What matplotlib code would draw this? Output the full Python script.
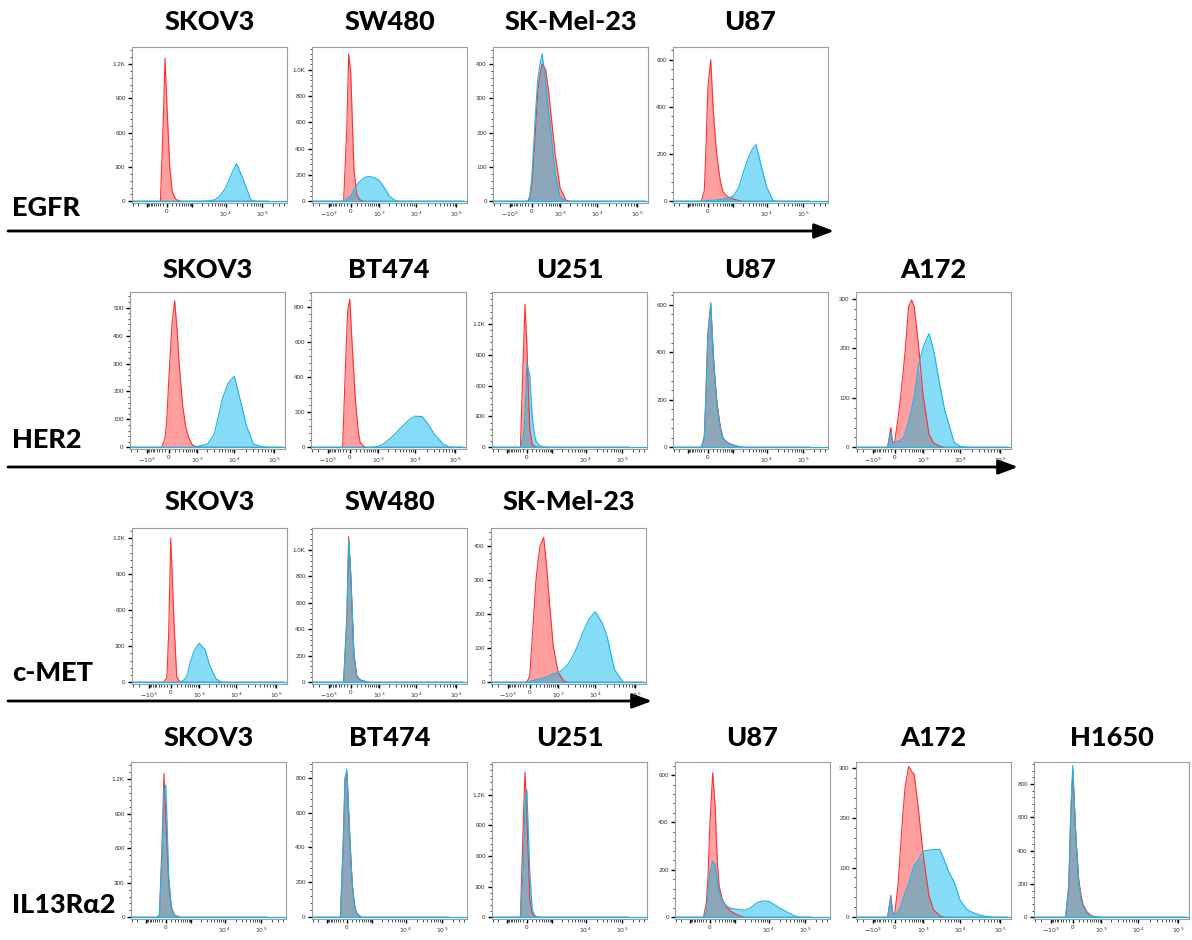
import numpy as np
import matplotlib
matplotlib.use("Agg")
import matplotlib.pyplot as plt
from matplotlib.ticker import FixedLocator, FuncFormatter, MultipleLocator

# ------------------------------------------------------------------ data
# fluorescence intensity grid (shared by every histogram)
fluor = [-3000, -1000, -500, -300, -200, -100, -50,
         0, 50, 100, 150, 200, 300, 400, 500,
         700, 1000, 1500, 2000, 3000, 4000, 5000, 7000,
         10000, 15000, 20000, 30000, 50000, 70000, 100000, 150000]

row_markers = ["EGFR", "HER2", "c-MET", "IL13R\u03b12"]
row_cells = [["SKOV3", "SW480", "SK-Mel-23", "U87"],
             ["SKOV3", "BT474", "U251", "U87", "A172"],
             ["SKOV3", "SW480", "SK-Mel-23"],
             ["SKOV3", "BT474", "U251", "U87", "A172", "H1650"]]

# counts per bin: iso = control (red), stain = antibody (blue)
egfr_skov3_iso = [0, 0, 0, 0, 0, 720, 1250, 850, 300, 90, 40, 15, 5, 0, 0,
                  0, 0, 0, 0, 0, 0, 0, 0, 0, 0, 0, 0, 0, 0, 0, 0]
egfr_skov3_stain = [0, 0, 0, 0, 0, 0, 0, 0, 0, 0, 0, 0, 0, 0, 0,
                    0, 0, 0, 0, 3, 8, 15, 50, 120, 250, 330, 200, 10, 0, 0, 0]
egfr_sw480_iso = [0, 0, 0, 0, 0, 557, 1120, 980, 242, 51, 20, 5, 0, 0, 0,
                  0, 0, 0, 0, 0, 0, 0, 0, 0, 0, 0, 0, 0, 0, 0, 0]
egfr_sw480_stain = [0, 0, 0, 0, 0, 20, 30, 40, 90, 125, 145, 160, 180, 188, 188,
                    180, 160, 95, 38, 3, 0, 0, 0, 0, 0, 0, 0, 0, 0, 0, 0]
egfr_skmel_iso = [0, 0, 0, 0, 0, 0, 8, 45, 180, 320, 370, 400, 385, 320, 250,
                  135, 38, 3, 0, 0, 0, 0, 0, 0, 0, 0, 0, 0, 0, 0, 0]
egfr_skmel_stain = [0, 0, 0, 0, 0, 0, 15, 65, 230, 355, 400, 430, 350, 260, 195,
                    80, 12, 0, 0, 0, 0, 0, 0, 0, 0, 0, 0, 0, 0, 0, 0]
egfr_u87_iso = [0, 0, 0, 0, 0, 45, 230, 480, 600, 390, 270, 180, 85, 40, 28,
                16, 10, 3, 0, 0, 0, 0, 0, 0, 0, 0, 0, 0, 0, 0, 0]
egfr_u87_stain = [0, 0, 0, 0, 0, 2, 3, 4, 4, 5, 5, 6, 8, 10, 12,
                  16, 22, 58, 115, 188, 225, 240, 150, 60, 3, 0, 0, 0, 0, 0, 0]

her2_skov3_iso = [0, 0, 0, 0, 0, 30, 90, 240, 440, 525, 420, 300, 150, 75, 40,
                  8, 2, 0, 0, 0, 0, 0, 0, 0, 0, 0, 0, 0, 0, 0, 0]
her2_skov3_stain = [0, 0, 0, 0, 0, 0, 0, 0, 0, 0, 0, 0, 0, 0, 0,
                    0, 3, 8, 12, 45, 115, 175, 230, 255, 155, 80, 12, 2, 0, 0, 0]
her2_bt474_iso = [0, 0, 0, 0, 0, 520, 780, 845, 500, 250, 100, 28, 5, 0, 0,
                  0, 0, 0, 0, 0, 0, 0, 0, 0, 0, 0, 0, 0, 0, 0, 0]
her2_bt474_stain = [0, 0, 0, 0, 0, 0, 0, 0, 0, 0, 0, 0, 0, 0, 0,
                    0, 5, 22, 42, 75, 105, 125, 158, 178, 175, 140, 75, 18, 2, 0, 0]
her2_u251_iso = [0, 0, 0, 0, 0, 900, 1390, 1000, 180, 30, 10, 3, 0, 0, 0,
                 0, 0, 0, 0, 0, 0, 0, 0, 0, 0, 0, 0, 0, 0, 0, 0]
her2_u251_stain = [0, 0, 0, 0, 0, 100, 320, 820, 700, 300, 130, 55, 20, 8, 3,
                   0, 0, 0, 0, 0, 0, 0, 0, 0, 0, 0, 0, 0, 0, 0, 0]
her2_u87_iso = [0, 0, 0, 0, 0, 45, 230, 480, 600, 390, 270, 180, 85, 40, 28,
                16, 10, 3, 0, 0, 0, 0, 0, 0, 0, 0, 0, 0, 0, 0, 0]
her2_u87_stain = [0, 0, 0, 0, 0, 40, 220, 470, 610, 400, 260, 170, 80, 38, 25,
                  15, 9, 3, 0, 0, 0, 0, 0, 0, 0, 0, 0, 0, 0, 0, 0]
her2_a172_iso = [0, 0, 0, 0, 0, 40, 8, 12, 58, 103, 150, 194, 285, 298, 285,
                 211, 104, 26, 9, 2, 0, 0, 0, 0, 0, 0, 0, 0, 0, 0, 0]
her2_a172_stain = [0, 0, 0, 0, 0, 30, 10, 10, 12, 15, 17, 28, 54, 78, 100,
                   163, 203, 230, 198, 125, 75, 50, 10, 2, 0, 0, 0, 0, 0, 0, 0]

cmet_skov3_iso = [0, 0, 0, 0, 0, 40, 400, 1200, 510, 50, 12, 3, 0, 0, 0,
                  0, 0, 0, 0, 0, 0, 0, 0, 0, 0, 0, 0, 0, 0, 0, 0]
cmet_skov3_stain = [0, 0, 0, 0, 0, 0, 0, 0, 0, 0, 0, 5, 25, 70, 165,
                    266, 325, 273, 145, 30, 3, 0, 0, 0, 0, 0, 0, 0, 0, 0, 0]
cmet_sw480_iso = [0, 0, 0, 0, 0, 500, 1100, 800, 200, 48, 25, 15, 8, 3, 0,
                  0, 0, 0, 0, 0, 0, 0, 0, 0, 0, 0, 0, 0, 0, 0, 0]
cmet_sw480_stain = [0, 0, 0, 0, 0, 450, 1080, 820, 210, 55, 28, 16, 8, 3, 0,
                    0, 0, 0, 0, 0, 0, 0, 0, 0, 0, 0, 0, 0, 0, 0, 0]
cmet_skmel_iso = [0, 0, 0, 0, 0, 0, 5, 20, 160, 290, 356, 400, 425, 340, 245,
                  105, 29, 3, 0, 0, 0, 0, 0, 0, 0, 0, 0, 0, 0, 0, 0]
cmet_skmel_stain = [0, 0, 0, 0, 0, 0, 0, 3, 5, 8, 9, 10, 13, 16, 19,
                    25, 28, 40, 55, 89, 122, 150, 186, 207, 174, 133, 38, 0, 0, 0, 0]

il13_skov3_iso = [0, 0, 0, 0, 20, 700, 1250, 850, 300, 90, 40, 15, 5, 0, 0,
                  0, 0, 0, 0, 0, 0, 0, 0, 0, 0, 0, 0, 0, 0, 0, 0]
il13_skov3_stain = [0, 0, 0, 0, 15, 600, 1100, 1150, 350, 100, 40, 15, 5, 0, 0,
                    0, 0, 0, 0, 0, 0, 0, 0, 0, 0, 0, 0, 0, 0, 0, 0]
il13_bt474_iso = [0, 0, 0, 0, 0, 450, 800, 830, 450, 200, 80, 30, 8, 0, 0,
                  0, 0, 0, 0, 0, 0, 0, 0, 0, 0, 0, 0, 0, 0, 0, 0]
il13_bt474_stain = [0, 0, 0, 0, 0, 420, 780, 850, 470, 190, 75, 28, 8, 0, 0,
                    0, 0, 0, 0, 0, 0, 0, 0, 0, 0, 0, 0, 0, 0, 0, 0]
il13_u251_iso = [0, 0, 0, 0, 0, 950, 1420, 1000, 180, 40, 12, 4, 0, 0, 0,
                 0, 0, 0, 0, 0, 0, 0, 0, 0, 0, 0, 0, 0, 0, 0, 0]
il13_u251_stain = [0, 0, 0, 0, 0, 500, 1100, 1250, 450, 80, 25, 8, 3, 0, 0,
                   0, 0, 0, 0, 0, 0, 0, 0, 0, 0, 0, 0, 0, 0, 0, 0]
il13_u87_iso = [0, 0, 0, 0, 0, 60, 170, 390, 610, 460, 230, 130, 75, 55, 40,
                25, 14, 5, 0, 0, 0, 0, 0, 0, 0, 0, 0, 0, 0, 0, 0]
il13_u87_stain = [0, 0, 0, 0, 0, 20, 100, 190, 238, 220, 150, 105, 70, 55, 45,
                  38, 35, 32, 30, 40, 55, 64, 69, 68, 51, 39, 25, 7, 1, 0, 0]
il13_a172_iso = [0, 0, 0, 0, 0, 44, 8, 8, 64, 144, 212, 262, 303, 293, 288,
                 220, 126, 42, 15, 3, 0, 0, 0, 0, 0, 0, 0, 0, 0, 0, 0]
il13_a172_stain = [0, 0, 0, 0, 0, 40, 8, 6, 9, 22, 37, 49, 68, 89, 104,
                   115, 133, 135, 136, 136, 113, 93, 71, 34, 15, 10, 5, 1, 0, 0, 0]
il13_h1650_iso = [0, 0, 0, 0, 0, 180, 600, 880, 470, 230, 130, 75, 35, 18, 8,
                  3, 0, 0, 0, 0, 0, 0, 0, 0, 0, 0, 0, 0, 0, 0, 0]
il13_h1650_stain = [0, 0, 0, 0, 0, 200, 620, 910, 470, 210, 110, 65, 28, 12, 5,
                    2, 0, 0, 0, 0, 0, 0, 0, 0, 0, 0, 0, 0, 0, 0, 0]

panel_data = [
    [(egfr_skov3_iso, egfr_skov3_stain), (egfr_sw480_iso, egfr_sw480_stain),
     (egfr_skmel_iso, egfr_skmel_stain), (egfr_u87_iso, egfr_u87_stain)],
    [(her2_skov3_iso, her2_skov3_stain), (her2_bt474_iso, her2_bt474_stain),
     (her2_u251_iso, her2_u251_stain), (her2_u87_iso, her2_u87_stain),
     (her2_a172_iso, her2_a172_stain)],
    [(cmet_skov3_iso, cmet_skov3_stain), (cmet_sw480_iso, cmet_sw480_stain),
     (cmet_skmel_iso, cmet_skmel_stain)],
    [(il13_skov3_iso, il13_skov3_stain), (il13_bt474_iso, il13_bt474_stain),
     (il13_u251_iso, il13_u251_stain), (il13_u87_iso, il13_u87_stain),
     (il13_a172_iso, il13_a172_stain), (il13_h1650_iso, il13_h1650_stain)],
]

# y-axis: tick step, highest labelled tick and axis top (counts) per panel
y_step = [[300, 200, 100, 200], [100, 200, 300, 200, 100], [300, 200, 100],
          [300, 200, 300, 200, 100, 200]]
y_label_max = [[1200, 1000, 400, 600], [500, 800, 1200, 600, 300], [1200, 1000, 400],
               [1200, 800, 1200, 600, 300, 800]]
y_top = [[1348, 1173, 450, 654], [556, 887, 1510, 654, 314], [1285, 1166, 452],
         [1350, 890, 1520, 655, 312, 931]]
# x-axis range type: wide (display up to ~5e5) or standard
wide = [[True, False, False, True], [False, False, True, True, False],
        [False, False, False], [True, True, True, True, False, False]]

# ------------------------------------------------------------------ style / layout
W, H = 1192, 940
RED_FILL, RED_EDGE = "#ff9f9f", "#ff3030"
BLUE_FILL, BLUE_EDGE = "#86dcf6", "#17b6ea"
OVER_FILL = "#8ea7b8"

row_y = [(47, 203), (292, 449), (528, 684), (762, 919)]
col_x = [[132, 312, 493, 673], [130, 311, 492, 673, 856], [132, 312, 491],
         [131, 312, 492, 675, 856, 1034]]
AX_W = 155
title_y = [22, 270, 502, 738]
marker_y = [208, 440, 673, 905]
arrow_y = [231, 467, 701, 936]
arrow_end = [834, 1018, 652, 1196]

CP, CN, KS = 250.0, 400.0, 1.1


def fwd(v):
    v = np.asarray(v, dtype=float)
    return np.where(v >= 0, KS * np.log10(1 + np.abs(v) / CP),
                    -KS * np.log10(1 + np.abs(v) / CN))


def inv(u):
    u = np.asarray(u, dtype=float)
    return np.where(u >= 0, CP * (10 ** (np.abs(u) / KS) - 1),
                    -CN * (10 ** (np.abs(u) / KS) - 1))


def ylab(v, pos):
    if v >= 1000:
        return "%.1fK" % (v / 1000.0)
    return "%d" % v


major_x = [-1000, 0, 1000, 10000, 100000]
minor_x = ([-3000, -2000] + list(range(-900, 0, 100)) + list(range(100, 1000, 100))
           + list(range(2000, 10000, 1000)) + list(range(20000, 100000, 10000))
           + [200000, 300000, 400000])

fig = plt.figure(figsize=(W / 100, H / 100), dpi=100)
fig.patch.set_facecolor("white")

TXT_FONT = ["Lato", "DejaVu Sans"]
TICK_FONT = ["Liberation Sans", "DejaVu Sans"]
TITLE_SIZE = 19.5

x = np.array(fluor, dtype=float)
for r, cells in enumerate(row_cells):
    top, bot = row_y[r]
    for c, name in enumerate(cells):
        left = col_x[r][c]
        ax = fig.add_axes([left / W, 1 - bot / H, AX_W / W, (bot - top) / H])
        iso = np.array(panel_data[r][c][0], dtype=float)
        stain = np.array(panel_data[r][c][1], dtype=float)
        ax.set_xscale("function", functions=(fwd, inv))
        ax.fill_between(x, 0, iso, color=RED_FILL, lw=0, zorder=1)
        ax.fill_between(x, 0, stain, color=BLUE_FILL, lw=0, zorder=2)
        ax.fill_between(x, 0, np.minimum(iso, stain), color=OVER_FILL, lw=0, zorder=3)
        ax.plot(x, iso, color=RED_EDGE, lw=0.8, zorder=4)
        ax.plot(x, stain, color=BLUE_EDGE, lw=0.8, zorder=5)
        ax.axhline(0, color=BLUE_EDGE, lw=0.9, zorder=5)
        right_u = 3.62 if wide[r][c] else 3.15
        ax.set_xlim(float(inv(-1.05)), float(inv(right_u)))
        ytop = y_top[r][c]
        ax.set_ylim(-0.011 * ytop, ytop)
        step = y_step[r][c]
        ax.yaxis.set_major_locator(FixedLocator(list(range(0, y_label_max[r][c] + 1, step))))
        ax.yaxis.set_minor_locator(MultipleLocator(step / 5))
        ax.yaxis.set_major_formatter(FuncFormatter(ylab))
        ax.xaxis.set_major_locator(FixedLocator(major_x))
        ax.xaxis.set_minor_locator(FixedLocator(minor_x))
        if wide[r][c]:
            labels = ["", "0", "", "$10^4$", "$10^5$"]
        else:
            labels = ["$-10^3$", "0", "$10^3$", "$10^4$", "$10^5$"]
        ax.set_xticklabels(labels)
        ax.tick_params(which="major", length=3, width=1.0, color="black",
                       labelsize=4.5, labelcolor="#333333", pad=1.5)
        ax.tick_params(which="minor", length=1.8, width=0.5, color="black")
        for lab in ax.get_xticklabels() + ax.get_yticklabels():
            lab.set_family(TICK_FONT)
        for sp in ax.spines.values():
            sp.set_color("#9c9c9c")
            sp.set_linewidth(0.8)
        fig.text((left + AX_W / 2) / W, 1 - title_y[r] / H, name, ha="center",
                 va="center", fontsize=TITLE_SIZE, fontweight="black", family=TXT_FONT)

# overlay in pixel coordinates for row markers and arrows
ov = fig.add_axes([0, 0, 1, 1], zorder=-1)
ov.set_xlim(0, W)
ov.set_ylim(H, 0)
ov.axis("off")
ov.patch.set_alpha(0)
for r, mk in enumerate(row_markers):
    ov.text(12, marker_y[r], mk, ha="left", va="center", fontsize=TITLE_SIZE,
            fontweight="black", family=TXT_FONT)
    ov.annotate("", xy=(arrow_end[r], arrow_y[r]), xytext=(8, arrow_y[r]),
                arrowprops=dict(arrowstyle="-|>,head_length=0.85,head_width=0.32",
                                lw=2.0, color="black", mutation_scale=14,
                                shrinkA=0, shrinkB=0))

fig.savefig("out.png", dpi=100, facecolor="white")
